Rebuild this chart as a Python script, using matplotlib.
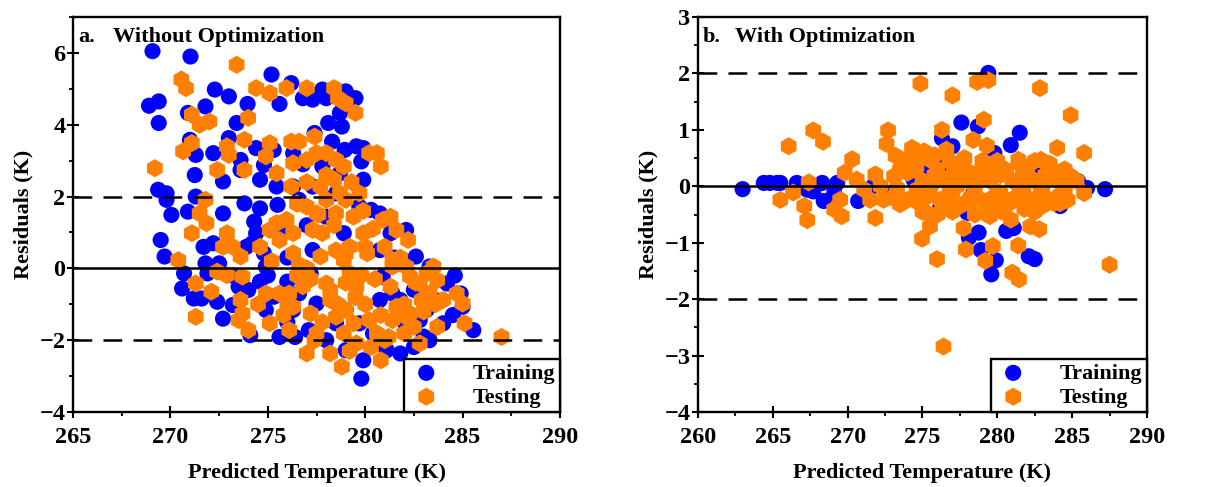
import matplotlib
matplotlib.use("Agg")
import matplotlib.pyplot as plt
from matplotlib.ticker import MultipleLocator

plt.rcParams['font.family'] = ['Liberation Serif', 'DejaVu Serif']
plt.rcParams['font.weight'] = 'bold'

# ---------------- Panel a: Without Optimization ----------------
a_train_x = [269.08, 271.03, 268.9, 269.4, 269.4, 272.28, 273.0, 271.8, 273.96, 275.19, 275.6, 276.2, 276.8,
             277.3, 277.8, 278.0, 279.0, 279.5, 278.7, 278.1, 278.8, 273.4, 270.9, 271.0, 271.3, 272.2, 273.0,
             271.25, 272.7, 273.6, 273.6, 274.4, 274.6, 274.8, 277.4, 278.3, 278.95, 279.55, 279.9, 279.8, 279.9,
             269.37, 269.8, 269.8, 270.05, 270.9, 271.3, 269.5, 269.7, 270.7, 270.6, 271.2, 271.6, 271.8, 271.7,
             272.2, 272.7, 272.5, 271.9, 272.4, 272.7, 273.2, 274.1, 273.8, 274.6, 274.2, 274.4, 275.5, 274.9,
             274.6, 274.9, 275.6, 276.4, 276.0, 276.6, 277.2, 277.5, 277.1, 278.0, 278.5, 279.0, 279.9, 279.8,
             281.1, 281.8, 282.5, 283.3, 284.0, 284.9, 285.0, 285.55, 284.2, 283.3, 282.6, 282.1, 281.3, 280.75,
             280.3, 279.7, 280.75, 280.9, 280.75, 281.4, 283.15, 282.8, 279.4, 278.9, 278.0, 277.3, 276.6, 276.3,
             275.45, 276.3, 275.3, 277.8, 278.7, 278.5, 277.3, 275.6, 274.8, 273.9, 273.5, 274.0, 275.3, 276.3,
             279.0, 279.7, 280.4, 282.1, 281.8, 282.5,
             275.0, 276.0, 277.0, 276.0, 281.5, 280.5, 283.8, 284.5,
             274.3, 276.8, 273.2, 284.6, 283.0]
a_train_y = [6.05, 5.9, 4.53, 4.65, 4.05, 4.98, 4.79, 4.51, 4.58, 5.4, 4.58, 5.16, 4.74,
             4.7, 4.98, 4.74, 4.93, 4.74, 4.33, 4.05, 3.95, 4.05, 4.33, 3.58, 3.16, 3.21, 3.63,
             2.6, 2.42, 3.02, 2.74, 3.35, 2.47, 2.88, 3.77, 3.53, 3.3, 3.4, 3.35, 2.98, 2.47,
             2.19, 2.09, 1.91, 1.49, 1.58, 2.0, 0.79, 0.33, -0.14, -0.56, -0.84, -0.84, 0.14, 0.6,
             0.7, 1.53, 0.14, -0.14, -0.93, -1.4, -1.02, -1.86, 1.81, 1.67, 0.7, 0.98, 1.77, 0.05,
             -0.37, -1.16, -1.91, -1.91, -0.37, -0.70, -0.14, -0.98, -1.72, -2.0, -1.53, -2.28, -2.56, -3.07,
             -2.28, -2.37, -2.19, -2.0, -1.53, -0.70, -1.07, -1.72, -0.42, 0.05, 0.33, 1.07, 0.98, 1.53,
             1.63, 1.72, 0.51, -0.23, -0.88, -0.70, -1.16, -1.44, -0.33, 0.98, 1.44, 0.51, 1.91, 2.28,
             2.28, 3.21, 3.3, 2.84, 2.65, 2.09, 2.28, 0.98, 0.42, 0.6, -0.51, -0.60, -0.79, -1.16,
             -1.16, -1.53, -1.81, -1.63, -0.88, -0.60,
             -0.2, 0.3, 1.2, -1.5, 0.3, -2.1, -0.9, -1.3,
             1.3, 2.9, -0.2, -0.2, -1.9]

a_test_x = [273.4, 270.56, 270.8, 274.4, 275.1, 275.96, 277.0, 278.4, 278.6, 279.0, 279.5, 271.1, 271.5,
            272.0, 273.99, 269.2, 270.65, 271.1, 272.9, 273.0, 272.4, 273.8, 273.8, 275.1, 274.9, 275.45,
            276.2, 276.6, 277.4, 276.3, 277.0, 277.5, 278.0, 278.5, 278.9, 280.2, 280.6, 280.8, 276.2,
            277.7, 278.4, 278.7, 278.0, 279.0, 277.0, 277.5, 278.5, 279.4, 271.8, 271.5, 271.85, 271.1,
            272.9, 272.7, 273.2, 273.6, 270.4, 272.4, 272.9, 273.7, 271.3, 272.1, 271.3, 273.6, 273.7,
            273.5, 274.0, 274.6, 275.1, 275.45, 275.96, 276.3, 275.6, 276.3, 274.9, 275.6, 276.1, 276.3,
            275.1, 276.1, 277.2, 277.5, 277.0, 278.2, 278.8, 280.8, 277.4, 277.8, 277.3, 277.7, 278.0,
            278.2, 278.9, 279.2, 279.9, 280.1, 279.2, 279.55, 279.0, 279.4, 279.55, 278.9, 278.5, 280.2,
            280.6, 280.3, 281.2, 281.4, 281.6, 281.3, 281.4, 281.4, 280.9, 281.3, 281.6, 282.2, 282.1,
            282.3, 282.8, 283.15, 283.5, 283.7, 283.3, 284.0, 284.7, 285.0, 282.9, 282.3, 282.5, 282.8,
            282.0, 283.7, 285.1, 287.0, 282.1, 279.7,
            276.5, 277.0, 278.5, 279.5, 280.5, 281.0, 282.0, 283.0, 280.0, 279.0, 277.8, 276.8, 275.8,
            274.5, 275.2, 278.0, 279.3, 278.4, 279.0,
            280.0, 276.6, 278.2, 277.2, 279.8, 281.8, 282.6, 280.8, 278.6, 276.0, 277.6, 279.9, 280.4,
            283.6, 281.0, 279.2, 277.0, 276.5]
a_test_y = [5.67, 5.26, 5.02, 5.02, 4.88, 5.02, 5.02, 5.02, 4.74, 4.6, 4.33, 4.28, 4.0,
            4.09, 4.19, 2.79, 3.26, 3.49, 3.4, 3.16, 2.74, 3.58, 2.74, 3.49, 3.12, 2.65,
            3.53, 3.53, 3.67, 2.93, 3.02, 3.21, 3.21, 3.02, 2.84, 3.21, 3.21, 2.84, 2.28,
            2.28, 2.47, 2.09, 1.91, 1.91, 1.72, 1.53, 1.53, 1.44, 1.91, 1.53, 1.26, 0.98,
            0.98, 0.6, 0.6, 0.33, 0.23, -0.09, -0.19, -0.23, -0.42, -0.65, -1.35, -0.88, -1.26,
            -1.44, -1.72, 0.6, 1.07, 1.26, 1.35, 0.98, 0.79, 0.42, -0.70, -0.70, -0.70, -1.07,
            -1.53, -1.72, -1.26, -1.81, -2.37, -2.37, -2.74, -2.56, -2.0, 0.98, 1.07, 0.33, -0.42,
            -0.88, 0.23, 0.6, 0.98, 0.42, -0.14, -0.51, -1.16, -1.53, -2.09, -1.81, -1.35, -1.44,
            -1.81, -2.19, -1.91, -1.44, -1.07, -0.51, 0.05, 0.23, 1.35, 1.44, 1.07, 0.79, 0.05,
            -0.23, -0.42, -0.14, 0.05, -0.33, -0.70, -0.88, -0.70, -0.98, -0.88, -1.26, -1.63, -2.09,
            -1.81, -1.63, -1.53, -1.91, -1.35, 2.09,
            -0.2, 0.0, 0.5, -0.8, -0.3, 0.6, -1.0, -1.2, -1.0, -0.4, -1.5, -0.5, -1.3,
            -1.0, 0.2, 2.6, 2.4, 1.2, 0.4,
            0.6, 0.1, -0.6, -0.3, -0.2, 0.3, -0.4, -1.3, -1.0, -1.0, 1.5, 1.6, 1.1,
            -1.0, -2.0, -2.3, 2.4, 1.8]

# ---------------- Panel b: With Optimization ----------------
b_train_x = [262.98, 264.4, 264.8, 265.3, 265.5, 266.6, 267.3, 267.7, 268.3, 268.4, 269.3, 269.1, 270.7,
             271.7, 272.85, 274.4, 276.3, 277.0, 276.6, 277.6, 278.7, 279.4, 279.8, 280.9, 281.5, 280.6,
             281.1, 278.75, 278.1, 278.9, 279.9, 279.6, 282.1, 282.5, 284.2, 285.4, 286.0, 287.2, 278.0,
             276.2, 275.3, 282.9, 284.0, 282.4, 278.4, 279.5]
b_train_y = [-0.05, 0.06, 0.06, 0.06, 0.06, 0.06, -0.06, -0.09, 0.06, -0.26, 0.06, -0.12, -0.26,
             0.0, -0.12, 0.12, 0.85, 0.71, 0.41, 1.13, 1.06, 2.01, 0.59, 0.73, 0.95, -0.79,
             -0.74, -0.82, -0.91, -1.13, -1.31, -1.56, -1.24, -1.29, -0.35, 0.09, -0.03, -0.05, -0.47,
             -0.35, 0.35, 0.35, 0.24, -0.24, -0.12, 0.12]

b_test_x = [266.06, 265.5, 266.35, 267.1, 267.3, 267.4, 267.7, 268.35, 269.1, 269.5, 269.6, 269.8, 270.3,
            270.6, 271.85, 271.5, 271.85, 272.4, 272.6, 272.7, 273.2, 273.5, 273.1, 274.0, 274.3, 274.86,
            274.97, 275.5, 275.3, 274.6, 275.1, 275.5, 275.97, 276.3, 275.7, 276.2, 276.4, 276.6, 277.0,
            277.1, 277.5, 277.75, 277.9, 277.75, 278.4, 278.65, 279.1, 279.3, 279.4, 279.2, 279.7, 278.9,
            279.5, 280.2, 280.6, 280.9, 281.0, 281.45, 281.4, 281.4, 282.0, 282.2, 282.2, 282.8, 282.9,
            282.85, 283.5, 284.0, 284.2, 284.7, 284.9, 284.9, 285.8, 285.8, 287.5, 278.2, 277.3, 279.8,
            281.75, 283.3, 274.0, 274.6, 275.3, 278.2, 280.6, 282.9, 284.5, 278.65, 280.0, 281.6, 276.8,
            273.3, 272.2, 271.1,
            274.5, 276.0, 277.5, 279.0, 280.5, 282.0, 283.5,
            275.0, 276.5, 278.0, 279.5, 281.0, 282.5, 284.0,
            275.5, 277.0, 278.5, 280.0, 281.5, 283.0, 284.5,
            274.8, 276.3, 277.8, 279.3, 280.8, 282.3, 283.8,
            273.8, 274.8, 275.8, 276.8, 277.8, 280.0, 281.5, 283.5, 284.5,
            276.0, 277.0, 278.5, 280.3, 281.8, 283.0, 284.2,
            275.8, 277.2, 278.7, 280.2, 281.7, 283.2, 284.7,
            275.2, 276.7, 278.2, 279.7, 281.2, 282.7, 284.2,
            279.0, 282.5, 279.5, 282.5, 275.0, 273.5, 273.0, 285.3]
b_test_y = [0.71, -0.24, -0.11, -0.35, -0.6, 0.07, 0.99, 0.79, -0.41, -0.24, -0.53, 0.24, 0.48,
            0.12, -0.56, -0.24, 0.21, -0.24, 0.75, 0.99, 0.54, -0.32, 0.18, -0.24, 0.68, 1.82,
            -0.93, -0.71, -0.47, 0.35, 0.62, 0.47, -1.29, 1.0, 0.06, -0.24, -2.84, 0.65, 1.61,
            0.24, -0.35, -0.74, -1.12, 0.35, 0.82, 1.85, 1.18, 0.72, 1.88, -1.32, -1.06, -0.24,
            -0.53, -0.12, 0.24, -0.59, -1.53, -1.65, -1.05, 0.47, 0.18, -0.35, -0.71, -0.76, 0.47,
            1.74, -0.24, 0.68, 0.24, -0.24, 1.26, 0.18, 0.59, -0.12, -1.39, 0.24, 0.0, 0.35,
            -0.12, 0.12, 0.24, -0.06, -0.12, -0.24, -0.24, -0.06, 0.0, 0.12, -0.35, 0.0, -0.12,
            -0.03, 0.0, -0.06,
            0.3, 0.3, 0.3, 0.3, 0.3, 0.3, 0.3,
            0.1, 0.1, 0.1, 0.1, 0.1, 0.1, 0.1,
            -0.1, -0.1, -0.1, -0.1, -0.1, -0.1, -0.1,
            -0.3, -0.3, -0.3, -0.3, -0.3, -0.3, -0.3,
            0.45, 0.5, 0.55, 0.45, 0.5, 0.45, 0.4, 0.4, 0.3,
            -0.5, -0.45, -0.5, -0.45, -0.4, -0.35, -0.3,
            0.2, 0.2, 0.2, 0.2, 0.2, 0.2, 0.15,
            -0.2, -0.2, -0.2, -0.2, -0.2, -0.2, -0.15,
            0.45, 0.45, -0.5, -0.45, -0.45, 0.3, -0.2, 0.1]

BLUE = '#0000FF'
ORANGE = '#FF8000'

fig = plt.figure(figsize=(12.15, 4.87), dpi=100)
ax1 = fig.add_axes([0.0601, 0.154, 0.4008, 0.811])
ax2 = fig.add_axes([0.5745, 0.154, 0.3695, 0.811])


def style(ax, xlim, ylim, ymaj, ymin):
    ax.set_xlim(*xlim)
    ax.set_ylim(*ylim)
    ax.xaxis.set_major_locator(MultipleLocator(5))
    ax.xaxis.set_minor_locator(MultipleLocator(2.5))
    ax.yaxis.set_major_locator(MultipleLocator(ymaj))
    ax.yaxis.set_minor_locator(MultipleLocator(ymin))
    for s in ax.spines.values():
        s.set_linewidth(1.7)
    ax.tick_params(which='major', direction='inout', length=9, width=1.5, labelsize=17.5)
    ax.tick_params(axis='x', which='major', pad=6)
    ax.tick_params(axis='y', which='major', pad=1)
    ax.tick_params(which='minor', direction='out', length=3, width=1.3)
    for lab in ax.get_xticklabels() + ax.get_yticklabels():
        lab.set_fontweight('bold')
    ax.set_xlabel('Predicted Temperature (K)', fontsize=16, fontweight='bold', labelpad=11)
    ax.set_ylabel('Residuals (K)', fontsize=16, fontweight='bold', labelpad=4)
    ax.axhline(0, color='black', lw=1.8, zorder=5)
    ax.axhline(2, color='black', lw=1.8, ls=(0, (7.5, 4.5)), zorder=5)
    ax.axhline(-2, color='black', lw=1.8, ls=(0, (7.5, 4.5)), zorder=5)


def draw(ax, trx, try_, tex, tey, label_a, label_b):
    ax.scatter(trx, try_, s=135, marker='o', color=BLUE, edgecolors='none', label='Training', zorder=3)
    ax.scatter(tex, tey, s=170, marker='h', color=ORANGE, edgecolors='none', label='Testing', zorder=4)
    ax.text(0.010, 0.949, label_a, transform=ax.transAxes, fontsize=16, fontweight='bold',
            va='center', ha='left', zorder=6)
    ax.text(0.082, 0.949, label_b, transform=ax.transAxes, fontsize=16,
            fontweight='bold', va='center', ha='left', zorder=6)
    leg = ax.legend(loc='lower right', borderaxespad=0, fancybox=False, framealpha=1,
                    edgecolor='black', prop={'family': 'Liberation Serif', 'weight': 'bold', 'size': 16},
                    handletextpad=1.3, borderpad=0.2, labelspacing=0.15, markerscale=1.0,
                    handlelength=1.6)
    leg.get_frame().set_linewidth(1.7)
    leg.set_zorder(10)


style(ax1, (265, 290), (-4, 7), 2, 1)
draw(ax1, a_train_x, a_train_y, a_test_x, a_test_y, 'a.', 'Without Optimization')
style(ax2, (260, 290), (-4, 3), 1, 0.5)
draw(ax2, b_train_x, b_train_y, b_test_x, b_test_y, 'b.', 'With Optimization')

fig.savefig('out.png', dpi=100)
